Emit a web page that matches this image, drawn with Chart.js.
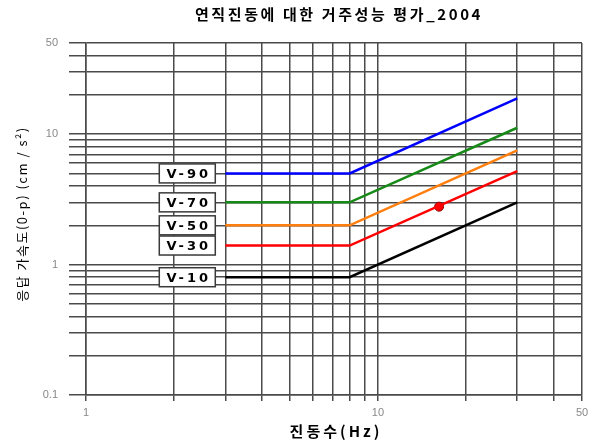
<!DOCTYPE html>
<html>
<head>
<meta charset="utf-8">
<script src="https://cdn.jsdelivr.net/npm/chart.js@4/dist/chart.umd.min.js"></script>
<style>
  html, body { margin: 0; padding: 0; background: #fff; }
  #wrap { width: 600px; height: 443px; }
</style>
</head>
<body>
<div id="wrap"><canvas id="c" width="600" height="443"></canvas></div>
<script>
// Titles
const chartTitle = '연직진동에 대한 거주성능 평가_2004';
const xTitle = '진동수(Hz)';
const yTitle = '응답 가속도(0-p) (cm / s²)';

// Evaluation curves: flat below 8 Hz, rising above it
const seriesNames = ['V-90', 'V-70', 'V-50', 'V-30', 'V-10'];
const seriesColors = ['#0000ff', '#168a16', '#ff7f0e', '#ff0000', '#000000'];
const freqHz = [3, 8, 30];
const accV90 = [5.0, 5.0, 18.8];
const accV70 = [3.0, 3.0, 11.2];
const accV50 = [2.0, 2.0, 7.5];
const accV30 = [1.4, 1.4, 5.2];
const accV10 = [0.8, 0.8, 3.0];
const seriesValues = [accV90, accV70, accV50, accV30, accV10];

// Measured response
const measuredFreq = [16.2];
const measuredAcc = [2.78];

// Grid lines and labelled ticks
const xGridValues = [1, 2, 3, 4, 5, 6, 7, 8, 9, 10, 20, 30, 40, 50];
const yGridValues = [0.1, 0.2, 0.3, 0.4, 0.5, 0.6, 0.7, 0.8, 0.9,
                     1, 2, 3, 4, 5, 6, 7, 8, 9, 10, 20, 30, 40, 50];
const xTickLabels = [1, 10, 50];
const yTickLabels = [0.1, 1, 10, 50];

const gridColor = '#4a4a4a';

const datasets = seriesNames.map((name, i) => ({
  label: name,
  data: freqHz.map((f, k) => ({ x: f, y: seriesValues[i][k] })),
  borderColor: seriesColors[i],
  backgroundColor: seriesColors[i],
  borderWidth: 2.5,
  pointRadius: 0,
  showLine: true,
  tension: 0
}));
datasets.push({
  label: '측정값',
  data: measuredFreq.map((f, k) => ({ x: f, y: measuredAcc[k] })),
  showLine: false,
  pointRadius: 4.5,
  pointBackgroundColor: '#ff0000',
  pointBorderColor: '#8a0000',
  pointBorderWidth: 1
});

function fixedTicks(values) {
  return function (scale) {
    scale.ticks = values.map(v => ({ value: v }));
  };
}

const textPlugin = {
  id: 'textPlugin',
  afterDatasetsDraw(chart) {
    const { ctx, scales: { x, y } } = chart;
    // name tags at the left end of each curve
    seriesNames.forEach((name, i) => {
      const cy = y.getPixelForValue(seriesValues[i][0]);
      const right = x.getPixelForValue(freqHz[0]) - 10;
      const w = 56, h = 19;
      ctx.save();
      ctx.fillStyle = '#ffffff';
      ctx.fillRect(right - w, cy - h / 2, w, h);
      ctx.strokeStyle = '#3a3a3a';
      ctx.lineWidth = 1.5;
      ctx.strokeRect(right - w, cy - h / 2, w, h);
      ctx.fillStyle = '#000';
      ctx.font = 'bold 13px "DejaVu Sans", sans-serif';
      ctx.letterSpacing = '3px';
      ctx.textAlign = 'center';
      ctx.textBaseline = 'middle';
      ctx.fillText(name, right - w / 2 + 1.5, cy + 1);
      ctx.restore();
    });
  },
  afterDraw(chart) {
    const { ctx, chartArea } = chart;
    ctx.save();
    ctx.fillStyle = '#000';
    ctx.textAlign = 'center';
    ctx.textBaseline = 'middle';
    // main title
    ctx.font = 'bold 15px "Noto Sans CJK KR", sans-serif';
    ctx.letterSpacing = '2.6px';
    ctx.fillText(chartTitle, (chartArea.left + chartArea.right) / 2 + 5, 14);
    // x axis title
    ctx.font = 'bold 15px "Noto Sans CJK KR", sans-serif';
    ctx.letterSpacing = '3px';
    ctx.fillText(xTitle, (chartArea.left + chartArea.right) / 2 + 2, 431);
    // y axis title
    ctx.translate(22, 214);
    ctx.rotate(-Math.PI / 2);
    ctx.font = '13px "Noto Sans CJK KR", sans-serif';
    ctx.letterSpacing = '1.5px';
    ctx.fillText(yTitle, 0, 0);
    ctx.restore();
  }
};

new Chart(document.getElementById('c'), {
  type: 'scatter',
  data: { datasets },
  plugins: [textPlugin],
  options: {
    responsive: false,
    animation: false,
    devicePixelRatio: 1,
    layout: { padding: { top: 43, right: 18, bottom: 0, left: 0 } },
    plugins: {
      legend: { display: false },
      title: { display: false },
      tooltip: { enabled: false }
    },
    scales: {
      x: {
        type: 'logarithmic',
        min: 1,
        max: 50,
        afterBuildTicks: fixedTicks(xGridValues),
        afterFit(scale) { scale.height = 48; },
        grid: { color: gridColor, lineWidth: 1.5, tickLength: 6, drawTicks: true },
        border: { color: gridColor, width: 1.5 },
        ticks: {
          autoSkip: false,
          maxRotation: 0,
          padding: 5,
          color: '#888',
          font: { family: '"Liberation Sans", Arial, sans-serif', size: 11 },
          callback: v => xTickLabels.includes(v) ? String(v) : ''
        }
      },
      y: {
        type: 'logarithmic',
        min: 0.1,
        max: 50,
        afterBuildTicks: fixedTicks(yGridValues),
        afterFit(scale) { scale.width = 86; },
        grid: { color: gridColor, lineWidth: 1.5, tickLength: 17, drawTicks: true },
        border: { color: gridColor, width: 1.5 },
        ticks: {
          autoSkip: false,
          padding: 11,
          color: '#888',
          font: { family: '"Liberation Sans", Arial, sans-serif', size: 11 },
          callback: v => yTickLabels.includes(v) ? String(v) : ''
        }
      }
    }
  }
});
</script>
</body>
</html>
